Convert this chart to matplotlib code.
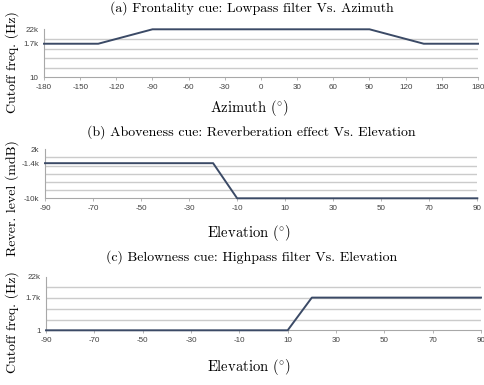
import matplotlib
matplotlib.use("Agg")
import matplotlib.pyplot as plt
import numpy as np
from matplotlib.ticker import FixedLocator

# (a) Frontality cue: lowpass cutoff against azimuth
azimuth = [-180, -135, -90, 90, 135, 180]
lowpass_hz = [1700, 1700, 22000, 22000, 1700, 1700]
azimuth_ticks = [-180, -150, -120, -90, -60, -30, 0, 30, 60, 90, 120, 150, 180]
freq_a_ticks = [10, 1700, 22000]
freq_a_labels = ["10", "1.7k", "22k"]

# (b) Aboveness cue: reverberation level against elevation
elev_b = [-90, -20, -10, 90]
reverb_mdb = [-1400, -1400, -10000, -10000]
reverb_ticks = [-10000, -1400, 2000]
reverb_labels = ["-10k", "-1.4k", "2k"]

# (c) Belowness cue: highpass cutoff against elevation
elev_c = [-90, 10, 20, 90]
highpass_hz = [1, 1, 1700, 1700]
freq_c_ticks = [1, 1700, 22000]
freq_c_labels = ["1", "1.7k", "22k"]

elev_ticks = [-90, -70, -50, -30, -10, 10, 30, 50, 70, 90]

W, H = 485, 385
LINE = "#3b4a66"
GRID = "#cbcbcb"
AXIS = "#a8a8a8"
TICK_TXT = "#404040"

plt.rcParams["mathtext.fontset"] = "cm"
serif = dict(family="cmr10")
DEG = r"(${}^{\circ}$)"


def level_scale(knots_hz, knots_pos):
    # Excel-style category levels: piecewise in log frequency
    lk = np.log10(knots_hz)

    def fwd(v):
        v = np.asarray(v, dtype=float)
        return np.interp(np.log10(np.clip(v, 1e-6, None)), lk, knots_pos)

    def inv(u):
        return 10 ** np.interp(np.asarray(u, dtype=float), knots_pos, lk)

    return fwd, inv


def make_axes(px_left, px_right, px_top, px_bottom):
    return fig.add_axes([px_left / W, 1 - px_bottom / H,
                         (px_right - px_left) / W, (px_bottom - px_top) / H])


def style(ax, xticks, ymajor, ylabels, yminor):
    ax.set_xticks(xticks)
    ax.set_xticklabels([str(t) for t in xticks])
    ax.yaxis.set_major_locator(FixedLocator(ymajor))
    ax.set_yticklabels(ylabels)
    ax.yaxis.set_minor_locator(FixedLocator(yminor))
    ax.xaxis.set_minor_locator(FixedLocator([]))
    ax.grid(False)
    ax.yaxis.grid(True, which="minor", color=GRID, lw=1.0)
    ax.set_axisbelow(True)
    for s in ["top", "right"]:
        ax.spines[s].set_visible(False)
    for s in ["left", "bottom"]:
        ax.spines[s].set_color(AXIS)
        ax.spines[s].set_linewidth(0.8)
    ax.tick_params(axis="y", which="both", length=0, pad=4,
                   labelsize=5.8, labelcolor=TICK_TXT)
    ax.tick_params(axis="x", which="major", length=2, width=0.6, color=AXIS,
                   direction="out", pad=3, labelsize=5.8, labelcolor=TICK_TXT)
    for lab in ax.get_xticklabels() + ax.get_yticklabels():
        lab.set_family("Liberation Sans")


fig = plt.figure(figsize=(W / 100, H / 100), dpi=100)

# panel (a)
ax_a = make_axes(44, 478, 29.3, 77.4)
fa, ia = level_scale([10, 1700, 22000], [0, 3.5, 5])
ax_a.set_yscale("function", functions=(fa, ia))
ax_a.plot(azimuth, lowpass_hz, color=LINE, lw=1.4, clip_on=False, zorder=3)
ax_a.set_xlim(-180, 180)
ax_a.set_ylim(10, 22000)
style(ax_a, azimuth_ticks, freq_a_ticks, freq_a_labels, ia(np.arange(6)))

# panel (b)
ax_b = make_axes(45, 477.3, 149.3, 198.3)
ax_b.plot(elev_b, reverb_mdb, color=LINE, lw=1.4, clip_on=False, zorder=3)
ax_b.set_xlim(-90, 90)
ax_b.set_ylim(-10000, 2000)
style(ax_b, elev_ticks, reverb_ticks, reverb_labels, np.arange(-10000, 2001, 2000))

# panel (c)
ax_c = make_axes(46, 481, 276.7, 330.3)
fc, ic = level_scale([1, 1700, 22000], [0, 3.05, 5])
ax_c.set_yscale("function", functions=(fc, ic))
ax_c.plot(elev_c, highpass_hz, color=LINE, lw=1.4, clip_on=False, zorder=3)
ax_c.set_xlim(-90, 90)
ax_c.set_ylim(1, 22000)
style(ax_c, elev_ticks, freq_c_ticks, freq_c_labels, ic(np.arange(6)))

# titles and axis labels in LaTeX-like serif
fig.text(251.7 / W, 1 - 8.3 / H, "(a) Frontality cue: Lowpass filter Vs. Azimuth",
         ha="center", va="center", fontsize=10, **serif)
fig.text(251.7 / W, 1 - 132.3 / H, "(b) Aboveness cue: Reverberation effect Vs. Elevation",
         ha="center", va="center", fontsize=10, **serif)
fig.text(251.7 / W, 1 - 257.3 / H, "(c) Belowness cue: Highpass filter Vs. Elevation",
         ha="center", va="center", fontsize=10, **serif)

fig.text(249 / W, 1 - 108.3 / H, "Azimuth " + DEG,
         ha="center", va="center", fontsize=10.5, **serif)
fig.text(249 / W, 1 - 233.3 / H, "Elevation " + DEG,
         ha="center", va="center", fontsize=10.5, **serif)
fig.text(249 / W, 1 - 367.3 / H, "Elevation " + DEG,
         ha="center", va="center", fontsize=10.5, **serif)

fig.text(12 / W, 1 - 62 / H, "Cutoff freq. (Hz)", rotation=90,
         ha="center", va="center", fontsize=10, **serif)
fig.text(12 / W, 1 - 198 / H, "Rever. level (mdB)", rotation=90,
         ha="center", va="center", fontsize=10, **serif)
fig.text(12 / W, 1 - 322 / H, "Cutoff freq. (Hz)", rotation=90,
         ha="center", va="center", fontsize=10, **serif)

fig.savefig("out.png", dpi=100)
